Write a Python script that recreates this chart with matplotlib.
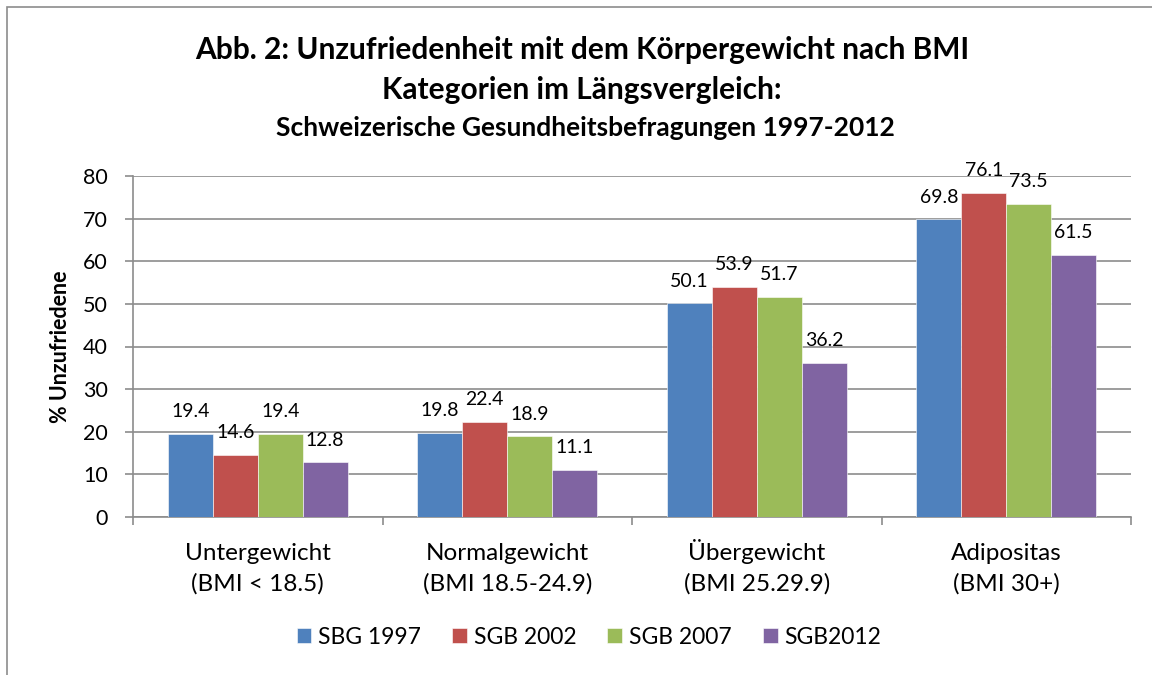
import numpy as np
import matplotlib
matplotlib.use("Agg")
import matplotlib.pyplot as plt
from matplotlib.patches import Rectangle
from matplotlib.transforms import blended_transform_factory

# data
categories = ["Untergewicht\n(BMI < 18.5)", "Normalgewicht\n(BMI 18.5-24.9)",
              "Übergewicht\n(BMI 25.29.9)", "Adipositas\n(BMI 30+)"]
series = ["SBG 1997", "SGB 2002", "SGB 2007", "SGB2012"]
sbg1997 = [19.4, 19.8, 50.1, 69.8]
sgb2002 = [14.6, 22.4, 53.9, 76.1]
sgb2007 = [19.4, 18.9, 51.7, 73.5]
sgb2012 = [12.8, 11.1, 36.2, 61.5]
yticks = [0, 10, 20, 30, 40, 50, 60, 70, 80]

colors = ["#4F81BD", "#C0504D", "#9BBB59", "#8064A2"]
font = ["Lato", "DejaVu Sans"]
plt.rcParams['font.family'] = font

W, H = 1152, 675
fig = plt.figure(figsize=(W / 100, H / 100), dpi=100)

# outer chart border (only top/left visible)
fig.patches.append(Rectangle((7 / W, -0.1), 1.2, 1 - 7 / H + 0.1, transform=fig.transFigure,
                             fill=False, edgecolor="#8c8c8c", linewidth=1.2))

left, right, top, bottom = 133, 1131, 176, 517
ax = fig.add_axes([left / W, 1 - bottom / H, (right - left) / W, (bottom - top) / H])

x = np.arange(len(categories))
bw = 0.18
for i, vals in enumerate([sbg1997, sgb2002, sgb2007, sgb2012]):
    pos = x + (i - 1.5) * bw
    ax.bar(pos, vals, width=bw, color=colors[i], label=series[i], zorder=3,
           edgecolor="white", linewidth=0.4)
    for p, v in zip(pos, vals):
        ax.annotate(f"{v:.1f}", (p, v), xytext=(0, 10), textcoords="offset points",
                    ha="center", va="bottom", fontsize=14)

ax.set_xlim(-0.5, 3.5)
ax.set_ylim(0, 80)
ax.set_yticks(yticks)
ax.yaxis.grid(True, color="#8c8c8c", linewidth=1.2, zorder=0)
ax.tick_params(axis="y", length=6, width=1.2, color="#8c8c8c", labelsize=15.5, pad=12)

ax.set_xticks(np.arange(-0.5, 4, 1))
ax.set_xticklabels([])
ax.tick_params(axis="x", which="major", length=6, width=1.2, color="#8c8c8c")

# category labels, two lines on fixed baselines
trans = blended_transform_factory(ax.transData, fig.transFigure)
for xi, lab in zip(x, categories):
    l1, l2 = lab.split("\n")
    fig.text(xi, 1 - 560 / H, l1, transform=trans, ha="center", va="baseline", fontsize=17.5)
    fig.text(xi, 1 - 591 / H, l2, transform=trans, ha="center", va="baseline", fontsize=17.5)

for s in ["top", "right"]:
    ax.spines[s].set_visible(False)
for s in ["left", "bottom"]:
    ax.spines[s].set_color("#8c8c8c")
    ax.spines[s].set_linewidth(1.2)

ax.set_ylabel("% Unzufriedene", fontsize=15.5, fontweight="bold", labelpad=9)

fig.text(582 / W, 1 - 50 / H, "Abb. 2: Unzufriedenheit mit dem Körpergewicht nach BMI",
         ha="center", va="center", fontsize=21.5, fontweight="bold")
fig.text(582 / W, 1 - 90 / H, "Kategorien im Längsvergleich:",
         ha="center", va="center", fontsize=21.5, fontweight="bold")
fig.text(585 / W, 1 - 128 / H, "Schweizerische Gesundheitsbefragungen 1997-2012",
         ha="center", va="center", fontsize=19, fontweight="bold")

fig.legend(loc="center", bbox_to_anchor=(589 / W, 1 - 637 / H), ncol=4, frameon=False,
           fontsize=16.5, handlelength=0.65, handleheight=0.65, handletextpad=0.3,
           columnspacing=1.35)

fig.savefig("out.png", dpi=100)
